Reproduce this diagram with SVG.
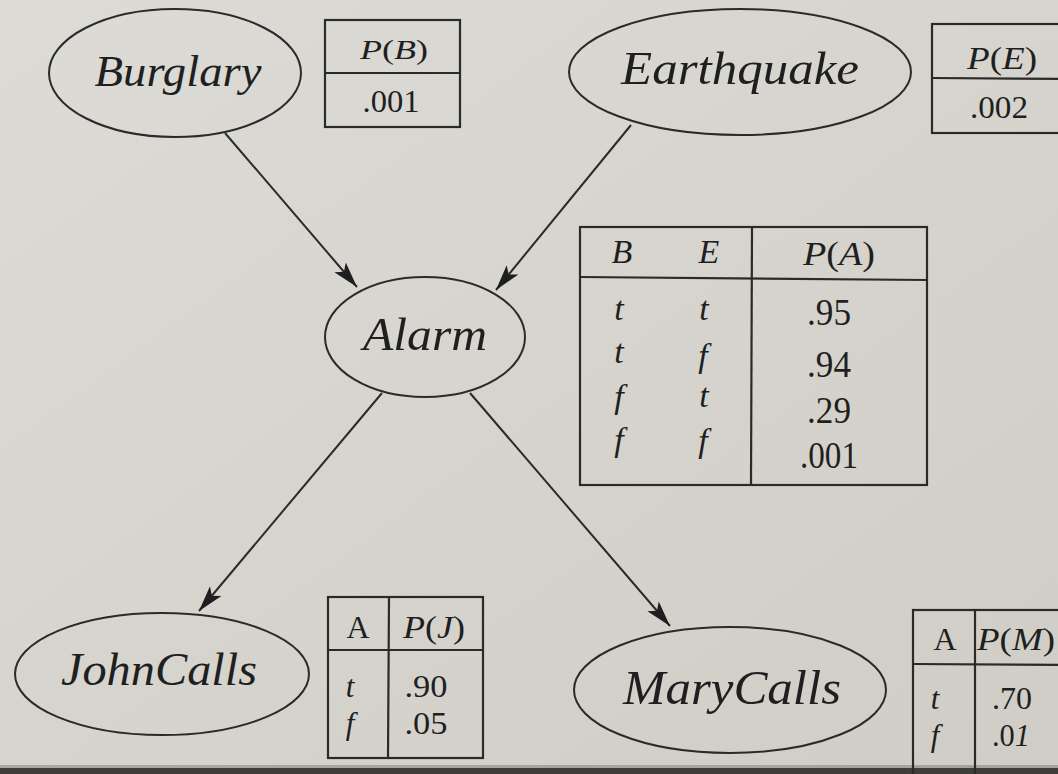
<svg xmlns="http://www.w3.org/2000/svg" width="1058" height="774" viewBox="0 0 1058 774">
<defs>
<linearGradient id="bg" x1="0" y1="0" x2="1" y2="1">
<stop offset="0" stop-color="#dddbd5"/>
<stop offset="1" stop-color="#cfcdc6"/>
</linearGradient>
<marker id="arr" markerUnits="userSpaceOnUse" markerWidth="28" markerHeight="16" refX="26" refY="8" orient="auto">
<path d="M0,0.5 L26,8 L0,15.5 L6,8 z" fill="#1e1e1e"/>
</marker>
</defs>
<style>
.node ellipse{fill:none;stroke:#2a2a2a;stroke-width:2}
.lbl{font-family:"Liberation Serif","Times New Roman",serif;font-style:italic;fill:#1f1f1f;text-anchor:middle}
.cpt rect,.cpt line{fill:none;stroke:#2a2a2a;stroke-width:2.2}
.t{font-family:"Liberation Serif","Times New Roman",serif;fill:#1f1f1f;text-anchor:middle}
.i{font-style:italic}
.edges line{stroke:#2a2a2a;stroke-width:2}
</style>
<rect width="1058" height="774" fill="url(#bg)"/>
<rect x="0" y="765" width="1058" height="9" fill="#47464250"/>
<rect x="0" y="768" width="1058" height="6" fill="#3e3d3a"/>

<g id="connectors" class="edges">
<line x1="225" y1="133" x2="357" y2="287" marker-end="url(#arr)"/>
<line x1="631" y1="125" x2="496" y2="290" marker-end="url(#arr)"/>
<line x1="382" y1="393" x2="199" y2="611" marker-end="url(#arr)"/>
<line x1="470" y1="393" x2="670" y2="626" marker-end="url(#arr)"/>
</g>

<g id="burglary" class="node">
<ellipse cx="175" cy="73" rx="126" ry="64"/>
<text class="lbl" x="178" y="86" font-size="44" textLength="167" lengthAdjust="spacingAndGlyphs">Burglary</text>
</g>
<g id="cpt-burglary" class="cpt">
<rect x="325" y="20" width="135" height="107"/>
<line x1="325" y1="73" x2="460" y2="73"/>
<text class="t" x="394" y="59" font-size="28" textLength="68" lengthAdjust="spacingAndGlyphs"><tspan class="i">P</tspan>(<tspan class="i">B</tspan>)</text>
<text class="t" x="391" y="112" font-size="31" textLength="57" lengthAdjust="spacingAndGlyphs">.001</text>
</g>

<g id="earthquake" class="node">
<ellipse cx="740" cy="72" rx="171" ry="63"/>
<text class="lbl" x="740" y="84" font-size="47" textLength="238" lengthAdjust="spacingAndGlyphs">Earthquake</text>
</g>
<g id="cpt-earthquake" class="cpt">
<rect x="932" y="24" width="150" height="109"/>
<line x1="932" y1="78" x2="1082" y2="79"/>
<text class="t" x="1002" y="69" font-size="31" textLength="70" lengthAdjust="spacingAndGlyphs"><tspan class="i">P</tspan>(<tspan class="i">E</tspan>)</text>
<text class="t" x="999" y="118" font-size="32" textLength="58" lengthAdjust="spacingAndGlyphs">.002</text>
</g>

<g id="alarm" class="node">
<ellipse cx="425" cy="337" rx="100" ry="60"/>
<text class="lbl" x="425" y="350" font-size="47" textLength="124" lengthAdjust="spacingAndGlyphs">Alarm</text>
</g>
<g id="cpt-alarm" class="cpt">
<rect x="580" y="227" width="347" height="258"/>
<line x1="580" y1="277" x2="927" y2="280"/>
<line x1="752" y1="227" x2="751" y2="485"/>
<text class="t i" x="622" y="263" font-size="34">B</text>
<text class="t i" x="709" y="263" font-size="34">E</text>
<text class="t" x="839" y="265" font-size="34" textLength="72" lengthAdjust="spacingAndGlyphs"><tspan class="i">P</tspan>(<tspan class="i">A</tspan>)</text>
<text class="t i" x="619" y="320" font-size="34">t</text>
<text class="t i" x="704" y="320" font-size="34">t</text>
<text class="t" x="829" y="325" font-size="37" textLength="44" lengthAdjust="spacingAndGlyphs">.95</text>
<text class="t i" x="619" y="363" font-size="34">t</text>
<text class="t i" x="703" y="367" font-size="34">f</text>
<text class="t" x="829" y="377" font-size="37" textLength="44" lengthAdjust="spacingAndGlyphs">.94</text>
<text class="t i" x="619" y="408" font-size="34">f</text>
<text class="t i" x="704" y="407" font-size="34">t</text>
<text class="t" x="829" y="423" font-size="37" textLength="44" lengthAdjust="spacingAndGlyphs">.29</text>
<text class="t i" x="619" y="451" font-size="34">f</text>
<text class="t i" x="703" y="452" font-size="34">f</text>
<text class="t" x="829" y="468" font-size="37" textLength="58" lengthAdjust="spacingAndGlyphs">.001</text>
</g>

<g id="johncalls" class="node">
<ellipse cx="162" cy="674" rx="147" ry="61"/>
<text class="lbl" x="159" y="685" font-size="46" textLength="196" lengthAdjust="spacingAndGlyphs">JohnCalls</text>
</g>
<g id="cpt-johncalls" class="cpt">
<rect x="328" y="597" width="155" height="161"/>
<line x1="328" y1="650" x2="483" y2="650"/>
<line x1="389" y1="597" x2="388" y2="758"/>
<text class="t" x="358" y="638" font-size="32">A</text>
<text class="t" x="434" y="638" font-size="32" textLength="62" lengthAdjust="spacingAndGlyphs"><tspan class="i">P</tspan>(<tspan class="i">J</tspan>)</text>
<text class="t i" x="350" y="697" font-size="31">t</text>
<text class="t" x="426" y="697" font-size="31" textLength="43" lengthAdjust="spacingAndGlyphs">.90</text>
<text class="t i" x="350" y="734" font-size="31">f</text>
<text class="t" x="426" y="734" font-size="31" textLength="43" lengthAdjust="spacingAndGlyphs">.05</text>
</g>

<g id="marycalls" class="node">
<ellipse cx="730" cy="690" rx="156" ry="63"/>
<text class="lbl" x="732" y="704" font-size="49" textLength="218" lengthAdjust="spacingAndGlyphs">MaryCalls</text>
</g>
<g id="cpt-marycalls" class="cpt">
<rect x="913" y="610" width="170" height="170"/>
<line x1="913" y1="664" x2="1083" y2="665"/>
<line x1="975" y1="610" x2="975" y2="780"/>
<text class="t" x="945" y="650" font-size="32">A</text>
<text class="t" x="977" y="650" font-size="32" style="text-anchor:start" textLength="78" lengthAdjust="spacingAndGlyphs"><tspan class="i">P</tspan>(<tspan class="i">M</tspan>)</text>
<text class="t i" x="935" y="709" font-size="31">t</text>
<text class="t" x="1012" y="709" font-size="31" textLength="40" lengthAdjust="spacingAndGlyphs">.70</text>
<text class="t i" x="935" y="746" font-size="31">f</text>
<text class="t" x="1011" y="746" font-size="31" textLength="38" lengthAdjust="spacingAndGlyphs">.0<tspan class="i">1</tspan></text>
</g>
</svg>
